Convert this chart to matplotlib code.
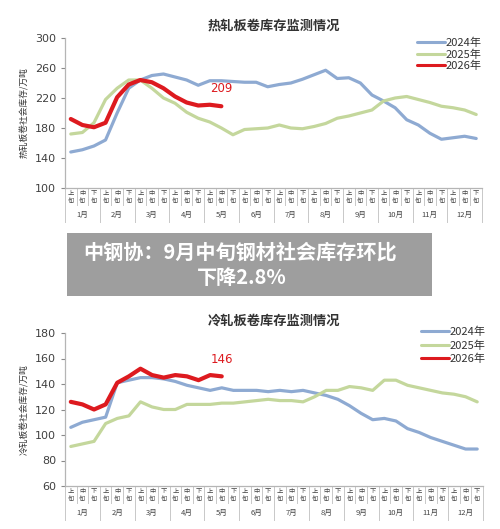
import matplotlib
matplotlib.use('Agg')
import matplotlib.pyplot as plt
from matplotlib.patches import Rectangle

plt.rcParams['font.family'] = ['Noto Sans CJK SC', 'DejaVu Sans']

months = ['1月', '2月', '3月', '4月', '5月', '6月', '7月', '8月', '9月', '10月', '11月', '12月']
dekads = ['上旬', '中旬', '下旬']
series_names = ['2024年', '2025年', '2026年']

# hot rolled coil stocks (10k t), one value per dekad
hot_2024 = [148, 151, 156, 164, 200, 233, 244, 250, 252, 248, 244, 237,
            243, 243, 242, 241, 241, 235, 238, 240, 245, 251, 257, 246,
            247, 240, 224, 216, 207, 191, 184, 173, 165, 167, 169, 166]
hot_2025 = [172, 174, 187, 218, 233, 244, 244, 233, 220, 213, 201, 193,
            188, 180, 171, 178, 179, 180, 184, 180, 179, 182, 186, 193,
            196, 200, 204, 216, 220, 222, 218, 214, 209, 207, 204, 198]
hot_2026 = [192, 184, 181, 187, 221, 238, 244, 241, 233, 222, 214, 210, 211, 209]

# cold rolled coil stocks (10k t)
cold_2024 = [106, 110, 112, 114, 141, 143, 145, 145, 144, 142, 139, 137,
             135, 137, 135, 135, 135, 134, 135, 134, 135, 133, 131, 128,
             123, 117, 112, 113, 111, 105, 102, 98, 95, 92, 89, 89]
cold_2025 = [91, 93, 95, 109, 113, 115, 126, 122, 120, 120, 124, 124,
             124, 125, 125, 126, 127, 128, 127, 127, 126, 130, 135, 135,
             138, 137, 135, 143, 143, 139, 137, 135, 133, 132, 130, 126]
cold_2026 = [126, 124, 120, 124, 141, 146, 152, 147, 145, 147, 146, 143, 147, 146]

colors = ['#8EAAD2', '#C4D79C', '#DD1A1F']
W, H = 500, 529


def px_axes(left, top, right, bottom):
    return fig.add_axes([left / W, 1 - bottom / H, (right - left) / W, (bottom - top) / H])


def draw_chart(ax, data, ylim, yticks, title, ylabel, end_label, label_y, legend_anchor, legend_gap):
    ax_h = ax.get_position().height * H
    for vals, c, lw, name in zip(data, colors, [2.3, 2.3, 3.0], series_names):
        ax.plot(range(len(vals)), vals, color=c, lw=lw, label=name, solid_capstyle='round')
    ax.text(13, label_y, end_label, color=colors[2], fontsize=8.5, ha='center', va='center',
            family='DejaVu Sans')
    ax.set_xlim(-0.5, 35.5)
    ax.set_ylim(*ylim)
    ax.set_yticks(yticks)
    ax.set_xticks([])
    ax.tick_params(axis='y', labelsize=8, colors='#8a8a8a', length=3, width=0.8, labelcolor='#404040')
    for lab in ax.get_yticklabels():
        lab.set_family('DejaVu Sans')
    for s in ['top', 'right']:
        ax.spines[s].set_visible(False)
    for s in ['left', 'bottom']:
        ax.spines[s].set_color('#b5b5b5')
        ax.spines[s].set_linewidth(0.9)

    # two-level category axis
    tr = ax.get_xaxis_transform()
    d1 = 17 / ax_h
    d2 = 34 / ax_h
    for i in range(37):
        bottom = -d2 if i % 3 == 0 else -d1
        ax.plot([i - 0.5, i - 0.5], [0, bottom], transform=tr, color='#c8c8c8', lw=0.7, clip_on=False)
    for i in range(36):
        ax.text(i, -9 / ax_h, dekads[i % 3][0] + '\n' + dekads[i % 3][1], transform=tr,
                fontsize=4.5, ha='center', va='center', color='#444444', linespacing=1.1)
    for m, name in enumerate(months):
        ax.text(3 * m + 1, -27 / ax_h, name, transform=tr, fontsize=5.5,
                ha='center', va='center', color='#444444')

    ax.set_title(title, fontsize=9.5, fontweight='bold', color='#333333', pad=6)
    ax.set_ylabel(ylabel, fontsize=6.3, color='#333333', labelpad=4)
    leg = ax.legend(loc='upper right', bbox_to_anchor=legend_anchor, bbox_transform=fig.transFigure,
                    frameon=False, fontsize=8, handlelength=2.6, handletextpad=0.05,
                    labelspacing=legend_gap, borderaxespad=0, borderpad=0)
    for t in leg.get_texts():
        t.set_color('#333333')
    for h in leg.get_lines():
        h.set_linewidth(2.2)


fig = plt.figure(figsize=(5, 5.29), dpi=100)

ax1 = px_axes(65, 38, 482, 188)
draw_chart(ax1, [hot_2024, hot_2025, hot_2026], (100, 300), range(100, 301, 40),
           '热轧板卷库存监测情况', '热轧板卷社会库存/万吨', '209', 232,
           (482 / W, 1 - 38 / H), 0.08)

ax2 = px_axes(65, 333, 483, 486)
draw_chart(ax2, [cold_2024, cold_2025, cold_2026], (60, 180), range(60, 181, 20),
           '冷轧板卷库存监测情况', '冷轧板卷社会库存/万吨', '146', 159.6,
           (486 / W, 1 - 327 / H), 0.25)

# headline banner over the middle
fig.patches.append(Rectangle((67 / W, 1 - 296 / H), 365 / W, 63 / H, transform=fig.transFigure,
                             facecolor='#9e9e9e', edgecolor='none', zorder=5))
fig.text(240 / W, 1 - 252 / H, '中钢协：9月中旬钢材社会库存环比', fontsize=14.5, fontweight='bold',
         color='white', ha='center', va='center', zorder=6)
fig.text(242 / W, 1 - 278 / H, '下降2.8%', fontsize=14.5, fontweight='bold',
         color='white', ha='center', va='center', zorder=6)

fig.savefig('out.png', dpi=100)
